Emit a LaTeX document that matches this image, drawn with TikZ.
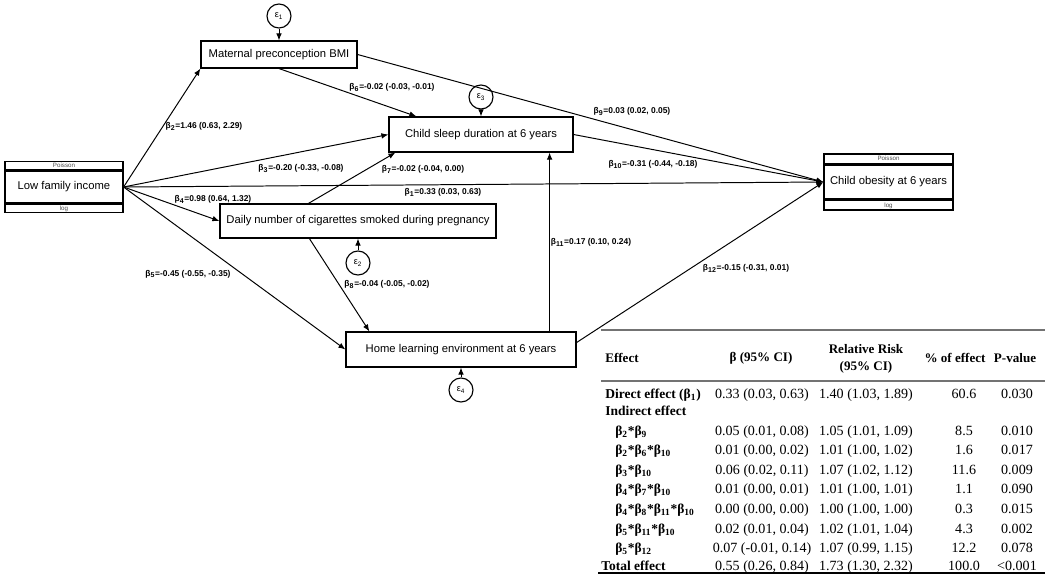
\documentclass[tikz,border=0pt]{standalone}
\usepackage{fontspec}
\setmainfont{Liberation Serif}
\newfontfamily\diagfont{Liberation Sans}
\usetikzlibrary{arrows.meta, positioning, calc}

\begin{document}
\begin{tikzpicture}[
  x=0.025cm, y=-0.025cm,
  >={Latex[length=5pt,width=4pt]},
  var/.style={draw,line width=0.8pt,fill=white,inner sep=0pt,font=\diagfont\fontsize{8}{9.5}\selectfont},
  strip/.style={draw,line width=0.8pt,inner sep=0pt,minimum height=0.2cm,font=\diagfont\fontsize{4.4}{4.6}\selectfont,text=black!70},
  err/.style={draw,circle,line width=0.8pt,minimum size=0.6cm,inner sep=0pt,font=\diagfont\fontsize{6.5}{7}\selectfont},
  arr/.style={->,line width=0.7pt},
  coef/.style={font=\diagfont\bfseries\fontsize{6}{7}\selectfont,inner sep=1pt},
  thead/.style={font=\bfseries\fontsize{9.3}{12}\selectfont,align=center,inner sep=0pt},
  tcell/.style={font=\fontsize{10}{12}\selectfont,inner sep=0pt,anchor=base},
  tlab/.style={font=\bfseries\fontsize{9.6}{12}\selectfont,inner sep=0pt,anchor=base west}
]
\useasboundingbox (0,0) rectangle (1050,574);

% ----- Variables -----------------------------------------------------------
\node[var,minimum width=2.95cm,minimum height=0.8cm]   (lfi)  at (64,187)    {Low family income};
\node[strip,minimum width=2.95cm,above=0.5pt of lfi]   (lfiP) {Poisson};
\node[strip,minimum width=2.95cm,below=0.5pt of lfi]   (lfiL) {log};

\node[var,minimum width=3.9cm,minimum height=0.675cm]  (bmi)  at (279,54.5)  {Maternal preconception BMI};
\node[var,minimum width=4.6cm,minimum height=0.875cm]  (sleep) at (481,134.5) {Child sleep duration at 6 years};
\node[var,minimum width=6.9cm,minimum height=0.85cm]   (cig)  at (358,221)   {Daily number of cigarettes smoked during pregnancy};
\node[var,minimum width=5.75cm,minimum height=0.875cm] (home) at (461,349.5) {Home learning environment at 6 years};

\node[var,minimum width=3.225cm,minimum height=0.85cm] (obes) at (888.5,182) {Child obesity at 6 years};
\node[strip,minimum width=3.225cm,minimum height=0.23cm,above=0.5pt of obes] (obesP) {Poisson};
\node[strip,minimum width=3.225cm,minimum height=0.23cm,below=0.5pt of obes] (obesL) {log};

% ----- Error terms ---------------------------------------------------------
\node[err] (e1) at (279,16)  {ε\textsubscript{1}};
\node[err] (e2) at (358,263) {ε\textsubscript{2}};
\node[err] (e3) at (481,97)  {ε\textsubscript{3}};
\node[err] (e4) at (461,390) {ε\textsubscript{4}};

\draw[arr] (e1) -- (bmi);
\draw[arr] (e2) -- (cig);
\draw[arr] (e3) -- (sleep);
\draw[arr] (e4) -- (home);

% ----- Paths ---------------------------------------------------------------
\coordinate (h11) at ($(home.north east)+(-27,0)$);

\draw[arr] (lfi.east) -- (bmi.south west);
\draw[arr] (lfi.east) -- (sleep.west);
\draw[arr] (lfi.east) -- (obes.west);
\draw[arr] (lfi.east) -- (cig.west);
\draw[arr] (lfi.east) -- (home.west);
\draw[arr] (bmi.south) -- ($(sleep.north west)+(28,0)$);
\draw[arr] (bmi.east) -- (obes.west);
\draw[arr] (sleep.east) -- (obes.west);
\draw[arr] ($(cig.north west)+(89,0)$) -- ($(sleep.south west)+(7,0)$);
\draw[arr] ($(cig.south west)+(90,0)$) -- ($(home.north west)+(24,0)$);
\draw[arr] (h11) -- (h11 |- sleep.south);
\draw[arr] ($(home.east)+(0,-7)$) -- (obes.west);

% ----- Coefficients --------------------------------------------------------
\node[coef] (c1)  at (443,192) {β\textsubscript{1}=0.33 (0.03, 0.63)};
\node[coef] (c2)  at (204,126) {β\textsubscript{2}=1.46 (0.63, 2.29)};
\node[coef] (c3)  at (301,168) {β\textsubscript{3}=-0.20 (-0.33, -0.08)};
\node[coef] (c4)  at (213,199) {β\textsubscript{4}=0.98 (0.64, 1.32)};
\node[coef] (c5)  at (188,274) {β\textsubscript{5}=-0.45 (-0.55, -0.35)};
\node[coef] (c6)  at (392,87)  {β\textsubscript{6}=-0.02 (-0.03, -0.01)};
\node[coef] (c7)  at (423,169) {β\textsubscript{7}=-0.02 (-0.04, 0.00)};
\node[coef] (c8)  at (387,284) {β\textsubscript{8}=-0.04 (-0.05, -0.02)};
\node[coef] (c9)  at (632,111) {β\textsubscript{9}=0.03 (0.02, 0.05)};
\node[coef] (c10) at (653,164) {β\textsubscript{10}=-0.31 (-0.44, -0.18)};
\node[coef] (c11) at (591,242) {β\textsubscript{11}=0.17 (0.10, 0.24)};
\node[coef] (c12) at (746,268) {β\textsubscript{12}=-0.15 (-0.31, 0.01)};

% ----- Table ---------------------------------------------------------------
\draw[line width=1.5pt,black!55] (601,330) -- (1045,330);
\draw[line width=1.5pt,black!55] (601,381) -- (1045,381);
\draw[line width=1pt] (598,573) -- (1045,573);

\node[thead,anchor=west] (hEff) at (605,358) {Effect};
\node[thead] (hBeta) at (761,358) {β (95\% CI)};
\node[thead] (hRR)   at (866,359) {Relative Risk\\(95\% CI)};
\node[thead] (hPct)  at (955,358) {\% of effect};
\node[thead] (hP)    at (1015,358) {P-value};

\node[tlab] (indir) at (605,415) {Indirect effect};

\foreach \yy/\xx/\lab/\bb/\rr/\pc/\pv [count=\i] in {
  398/605/{Direct effect (β\textsubscript{1})}/{0.33 (0.03, 0.63)}/{1.40 (1.03, 1.89)}/60.6/0.030,
  435/615/{β\textsubscript{2}*β\textsubscript{9}}/{0.05 (0.01, 0.08)}/{1.05 (1.01, 1.09)}/8.5/0.010,
  454/615/{β\textsubscript{2}*β\textsubscript{6}*β\textsubscript{10}}/{0.01 (0.00, 0.02)}/{1.01 (1.00, 1.02)}/1.6/0.017,
  474/615/{β\textsubscript{3}*β\textsubscript{10}}/{0.06 (0.02, 0.11)}/{1.07 (1.02, 1.12)}/11.6/0.009,
  493/615/{β\textsubscript{4}*β\textsubscript{7}*β\textsubscript{10}}/{0.01 (0.00, 0.01)}/{1.01 (1.00, 1.01)}/1.1/0.090,
  513/615/{β\textsubscript{4}*β\textsubscript{8}*β\textsubscript{11}*β\textsubscript{10}}/{0.00 (0.00, 0.00)}/{1.00 (1.00, 1.00)}/0.3/0.015,
  533/615/{β\textsubscript{5}*β\textsubscript{11}*β\textsubscript{10}}/{0.02 (0.01, 0.04)}/{1.02 (1.01, 1.04)}/4.3/0.002,
  552/615/{β\textsubscript{5}*β\textsubscript{12}}/{0.07 (-0.01, 0.14)}/{1.07 (0.99, 1.15)}/12.2/0.078,
  570/601/{Total effect}/{0.55 (0.26, 0.84)}/{1.73 (1.30, 2.32)}/100.0/<0.001}{
  \node[tlab]  (lab\i) at (\xx,\yy)  {\lab};
  \node[tcell] (bet\i) at (762,\yy)  {\bb};
  \node[tcell] (rr\i)  at (866,\yy)  {\rr};
  \node[tcell] (pct\i) at (964,\yy)  {\pc};
  \node[tcell] (pv\i)  at (1017,\yy) {\pv};
}

\end{tikzpicture}
\end{document}
